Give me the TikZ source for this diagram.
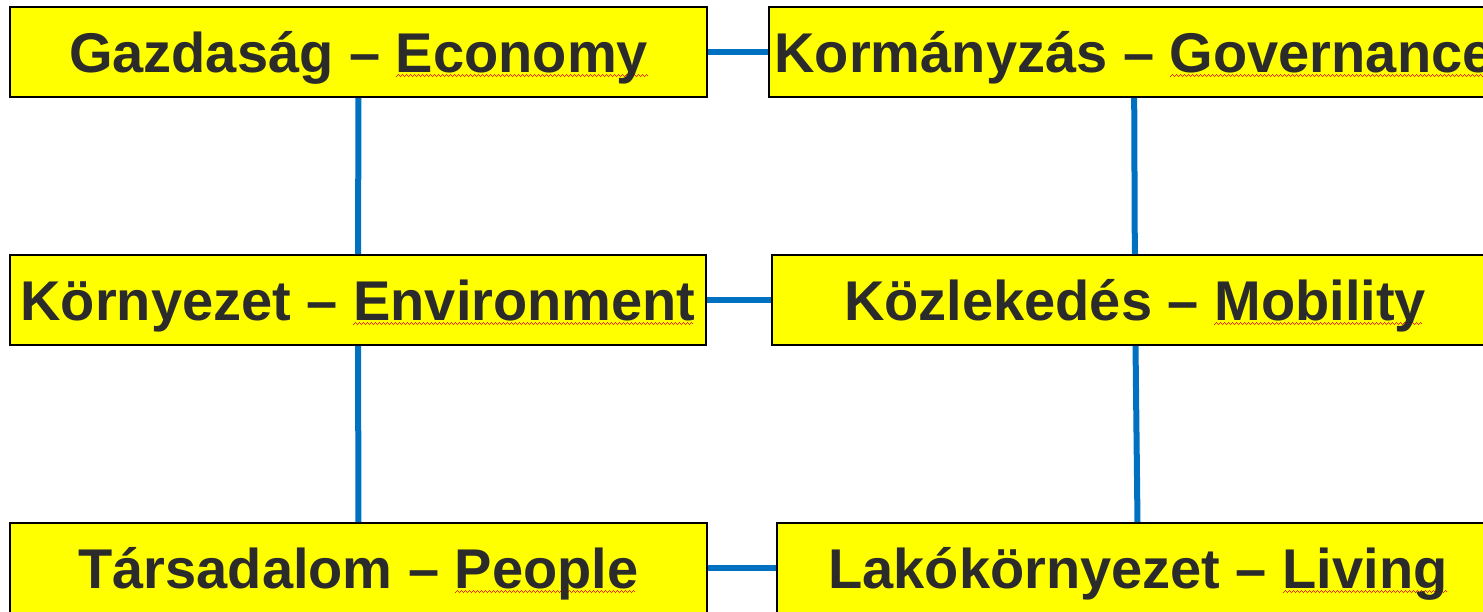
\documentclass[tikz,border=0pt]{standalone}
\usepackage{fontspec}
\setmainfont{Liberation Sans}
\definecolor{boxyellow}{RGB}{255,255,0}
\definecolor{labelgray}{RGB}{43,43,43}
\definecolor{linkblue}{RGB}{0,112,192}
\definecolor{wavered}{RGB}{255,30,0}
\newsavebox\wavebox
\newcommand\spellwave[1]{\sbox\wavebox{#1}\rlap{\hbox to\wd\wavebox{\color{wavered}\leaders\hbox{\rule[-4pt]{.75pt}{1.2pt}\rule[-3.3pt]{.75pt}{1.2pt}\rule[-2.6pt]{.75pt}{1.2pt}\rule[-3.3pt]{.75pt}{1.2pt}}\hfill}}\usebox\wavebox}
\begin{document}
\begin{tikzpicture}[x=0.75pt,y=-0.75pt,
  area/.style={draw=black,line width=1.5pt,fill=boxyellow,inner sep=0pt,minimum height=67.5pt,
    text=labelgray,font=\fontsize{42}{50}\selectfont\bfseries,text height=30pt,text depth=0pt},
  link/.style={draw=linkblue,line width=4.5pt}]
\path[use as bounding box,fill=white] (0,0) rectangle (1483,611);
\clip (0,0) rectangle (1483,611);
\node[area,minimum width=522.75pt] (gazdasag) at (358.5,52) {Gazdaság – \spellwave{Economy}};
\node[area,minimum width=547.5pt] (kormanyzas) at (1134,52) {Kormányzás – \spellwave{Governance}};
\node[area,minimum width=522pt] (kornyezet) at (358,300) {Környezet – \spellwave{Environment}};
\node[area,minimum width=544.5pt] (kozlekedes) at (1135,300) {Közlekedés – \spellwave{Mobility}};
\node[area,minimum width=522.75pt] (tarsadalom) at (358.5,568) {Társadalom – \spellwave{People}};
\node[area,minimum width=541.5pt] (lakokornyezet) at (1138,568) {Lakókörnyezet – \spellwave{Living}};
\draw[link] (gazdasag) -- (kormanyzas);
\draw[link] (kornyezet) -- (kozlekedes);
\draw[link] (tarsadalom) -- (lakokornyezet);
\draw[link] (gazdasag) -- (kornyezet);
\draw[link] (kornyezet) -- (tarsadalom);
\draw[link] (kormanyzas) -- (kozlekedes);
\draw[link] (kozlekedes) -- (lakokornyezet);
\end{tikzpicture}
\end{document}
